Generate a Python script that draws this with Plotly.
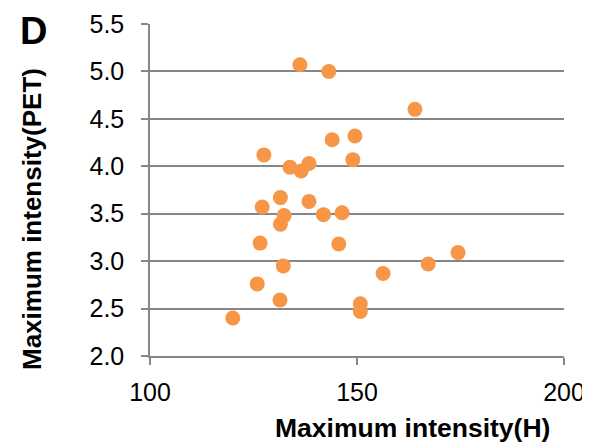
import plotly.graph_objects as go

# Data
h_intensity = [136.2, 143.2, 127.5, 133.8, 136.5, 138.4, 144.0, 164.0, 149.5, 149.0,
               131.5, 127.1, 138.4, 132.4, 131.5, 141.9, 146.4, 126.6, 145.6, 132.2,
               125.9, 131.4, 120.0, 156.3, 167.2, 174.4, 150.8, 150.8]
pet_intensity = [5.07, 5.00, 4.12, 3.99, 3.95, 4.03, 4.28, 4.60, 4.32, 4.07,
                 3.67, 3.57, 3.63, 3.48, 3.39, 3.49, 3.51, 3.19, 3.18, 2.95,
                 2.76, 2.59, 2.40, 2.87, 2.97, 3.09, 2.55, 2.47]

x_ticks = [100, 150, 200]
y_ticks = [2.0, 2.5, 3.0, 3.5, 4.0, 4.5, 5.0, 5.5]

FONT = "Liberation Sans, Arial, sans-serif"
GRID = "#868686"

# page body has an 8px margin; size the figure so it fits the 590x443 window
OFF = 8
W, H = 590 - OFF, 443 - OFF
l, r, t, b = 150 - OFF, 26, 24 - OFF, 87
pw, ph = W - l - r, H - t - b


def px_to_paper(px, py):
    px -= OFF
    py -= OFF
    return (px - l) / pw, (H - b - py) / ph


fig = go.Figure(
    go.Scatter(
        x=h_intensity, y=pet_intensity, mode="markers",
        marker=dict(size=15, color="#F79646", line=dict(width=0)),
        hoverinfo="skip",
    )
)

xt_x, xt_y = px_to_paper(412, 428)
yt_x, yt_y = px_to_paper(32, 219)
d_x, d_y = px_to_paper(33, 31)

fig.update_layout(
    width=W, height=H,
    margin=dict(l=l, r=r, t=t, b=b, autoexpand=False),
    paper_bgcolor="white", plot_bgcolor="white",
    showlegend=False,
    font=dict(family=FONT, size=25, color="black"),
    xaxis=dict(
        range=[100, 200], tickvals=x_ticks, ticktext=[str(v) for v in x_ticks],
        showgrid=False, zeroline=False, automargin=False,
        showline=True, linecolor=GRID, linewidth=1.5,
        ticks="outside", ticklen=7, tickcolor=GRID, tickwidth=1.5,
        ticklabelstandoff=6,
        tickfont=dict(family=FONT, size=25, color="black"),
    ),
    yaxis=dict(
        range=[2.0, 5.5], tickvals=y_ticks, ticktext=[f"{v:.1f}" for v in y_ticks],
        showgrid=True, gridcolor=GRID, gridwidth=1.5, zeroline=False, automargin=False,
        showline=True, linecolor=GRID, linewidth=1.5,
        ticks="outside", ticklen=7, tickcolor=GRID, tickwidth=1.5,
        ticklabelstandoff=12,
        tickfont=dict(family=FONT, size=25, color="black"),
    ),
    annotations=[
        dict(text="<b>Maximum intensity(H)</b>", x=xt_x, y=xt_y, xref="paper", yref="paper",
             xanchor="center", yanchor="middle", showarrow=False,
             font=dict(family=FONT, size=26.5, color="black")),
        dict(text="<b>Maximum intensity(PET)</b>", x=yt_x, y=yt_y, xref="paper", yref="paper",
             xanchor="center", yanchor="middle", textangle=-90, showarrow=False,
             font=dict(family=FONT, size=26, color="black")),
        dict(text="<b>D</b>", x=d_x, y=d_y, xref="paper", yref="paper",
             xanchor="center", yanchor="middle", showarrow=False,
             font=dict(family=FONT, size=38, color="black")),
    ],
)

# hide scrollbars so the right-most tick label is not covered
fig.write_html("out.html", post_script="document.body.style.overflow='hidden';")
